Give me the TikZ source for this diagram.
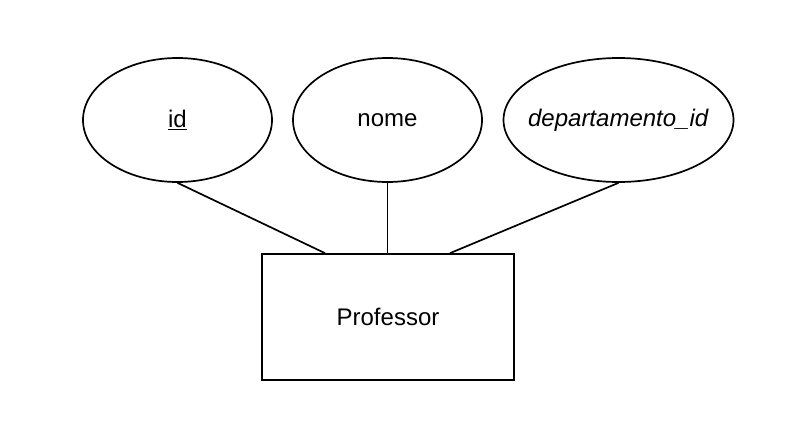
\documentclass[tikz,border=0pt]{standalone}
\usepackage{fontspec}
\setmainfont{Liberation Sans}
\usetikzlibrary{shapes.geometric}
\begin{document}
\begin{tikzpicture}[x=1pt,y=-1pt,
  attr/.style={draw, line width=1.7pt, ellipse, inner sep=0pt},
  ent/.style={draw, line width=1.7pt, rectangle, inner sep=0pt, minimum width=252pt, minimum height=126pt},
  conn/.style={line width=1.7pt},
  every node/.style={font=\fontsize{24}{28}\selectfont}]
\useasboundingbox[fill=white] (0,0) rectangle (810,439);
\node[attr, minimum width=189pt, minimum height=124pt] (id) at (177.5,120) {\underline{id}};
\node[attr, minimum width=189pt, minimum height=124pt] (nome) at (387.5,120) {nome};
\node[attr, inner xsep=-30pt, minimum width=230pt, minimum height=124pt] (dep) at (618.5,120) {\textit{departamento\_id}};
\node[ent] (prof) at (388,317) {Professor};
\draw[conn] (id.south) -- (prof.north -| 325,0);
\draw[conn] (nome.south) -- (prof.north -| nome.south);
\draw[conn] (dep.south) -- (prof.north -| 450,0);
\end{tikzpicture}
\end{document}
